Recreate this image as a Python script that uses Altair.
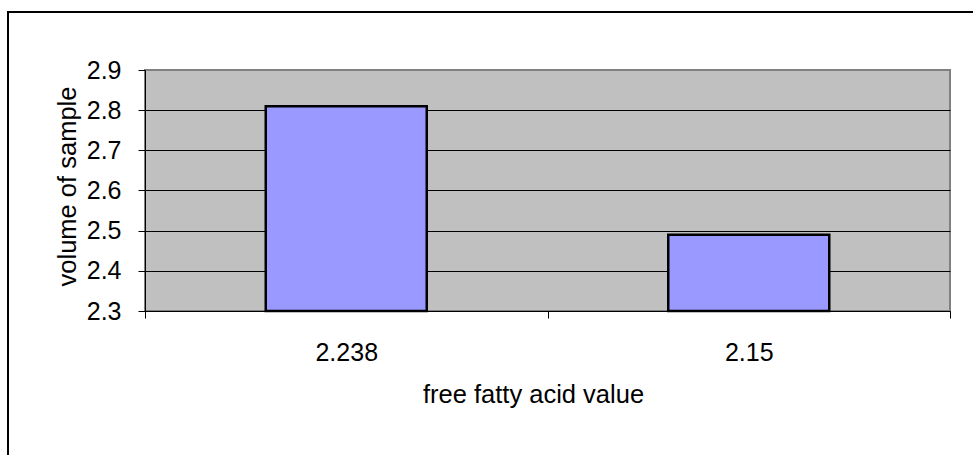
import altair as alt
import pandas as pd

# Chart data
ffa_values = ["2.238", "2.15"]
sample_volume = [2.81, 2.49]
y_ticks = [2.3, 2.4, 2.5, 2.6, 2.7, 2.8, 2.9]
y_floor = 2.3

df = pd.DataFrame({"ffa": ffa_values, "volume": sample_volume})

FONT = "Liberation Sans"
LABEL_FS = 25
TITLE_FS = 25.5

x_enc = alt.X(
    "ffa:N",
    sort=ffa_values,
    scale=alt.Scale(paddingInner=0, paddingOuter=0),
    axis=alt.Axis(
        title="free fatty acid value",
        labelAngle=0,
        tickBand="extent",
        tickSize=7,
        tickColor="black",
        domainColor="black",
        labelBaseline="alphabetic",
        labelPadding=42,
        labelFont=FONT,
        labelFontSize=LABEL_FS,
        labelColor="black",
        titleFont=FONT,
        titleFontSize=TITLE_FS,
        titleFontWeight="normal",
        titleColor="black",
        titleBaseline="alphabetic",
        titleAlign="center",
        titleX=388,
        titleY=91,
        grid=False,
    ),
)

y_enc = alt.Y(
    "volume:Q",
    scale=alt.Scale(domain=[2.3, 2.9], zero=False, nice=False),
    axis=alt.Axis(
        title="volume of sample",
        values=y_ticks,
        format=".1f",
        tickSize=7,
        tickColor="black",
        domainColor="black",
        labelAlign="right",
        labelBaseline="middle",
        labelPadding=17,
        labelFont=FONT,
        labelFontSize=LABEL_FS,
        labelColor="black",
        titleFont=FONT,
        titleFontSize=TITLE_FS,
        titleFontWeight="normal",
        titleColor="black",
        titleAngle=270,
        titleAlign="center",
        titleBaseline="alphabetic",
        titleX=-70,
        titleY=116,
        grid=True,
        gridColor={"condition": {"test": "datum.value > 2.85", "value": "#808080"}, "value": "black"},
        gridWidth=1,
    ),
)

bars = alt.Chart(df).mark_bar(
    width=alt.RelativeBandSize(0.4),
    color="#9999FF",
    stroke="black",
    strokeWidth=2.5,
).encode(x=x_enc, y=y_enc, y2=alt.datum(y_floor))

# Frame around the whole chart area
frame = alt.Chart(pd.DataFrame({"k": [0]})).mark_rect(
    filled=False, stroke="black", strokeWidth=2
).encode(
    x=alt.value(-137), x2=alt.value(900),
    y=alt.value(-58), y2=alt.value(450),
)

chart = alt.layer(bars, frame).properties(
    width=805,
    height=241,
    background="white",
    padding={"left": 145, "top": 70, "right": 23, "bottom": 144},
    autosize=alt.AutoSizeParams(type="none"),
).configure_view(
    fill="#C0C0C0",
    stroke="#808080",
    strokeWidth=2,
)

chart.save("out.html", embed_options={"renderer": "svg", "actions": False})
